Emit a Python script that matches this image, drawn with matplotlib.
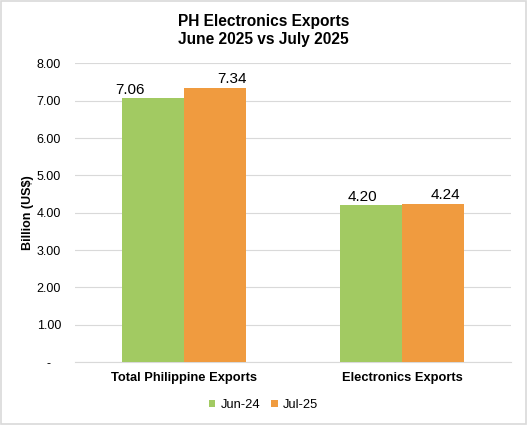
import matplotlib.pyplot as plt
import numpy as np
from matplotlib.patches import Rectangle

plt.rcParams['font.family'] = ['Liberation Sans', 'DejaVu Sans']

categories = ['Total Philippine Exports', 'Electronics Exports']
series_names = ['Jun-24', 'Jul-25']
jun24 = [7.06, 4.20]
jul25 = [7.34, 4.24]
colors = ['#A2CA62', '#F09B3F']
yticks = [0, 1, 2, 3, 4, 5, 6, 7, 8]
ytick_labels = ['-   ', '1.00', '2.00', '3.00', '4.00', '5.00', '6.00', '7.00', '8.00']

# data labels in the original are nudged sideways by hand
label_dx = [[-0.105, -0.041], [0.078, 0.055]]

fig = plt.figure(figsize=(5.27, 4.25), dpi=100)
ax = fig.add_axes([0.1423, 0.148, 0.828, 0.703])

x = np.arange(len(categories))
w = 0.284
for i, (vals, name) in enumerate(zip([jun24, jul25], series_names)):
    bars = ax.bar(x + (i - 0.5) * w, vals, w, color=colors[i], label=name, zorder=3)
    for j, (b, v) in enumerate(zip(bars, vals)):
        ax.text(b.get_x() + b.get_width() / 2 + label_dx[i][j], v + 0.12, '%.2f' % v,
                ha='center', va='baseline', fontsize=11, color='#000000')

ax.set_xlim(-0.5, 1.5)
ax.set_ylim(0, 8)
ax.set_yticks(yticks)
ax.set_yticklabels(ytick_labels, fontsize=9)
ax.set_xticks(x)
ax.set_xticklabels(categories, fontsize=9.3, fontweight='bold')
ax.tick_params(axis='both', length=0, pad=7)
ax.tick_params(axis='y', pad=10)
ax.yaxis.grid(True, color='#D9D9D9', lw=0.8, zorder=0)
for s in ['top', 'right', 'left']:
    ax.spines[s].set_visible(False)
ax.spines['bottom'].set_color('#D9D9D9')
ax.set_ylabel('Billion (US$)', fontsize=9, fontweight='bold', labelpad=2)

fig.text(0.5, 0.9395, 'PH Electronics Exports', ha='center', va='baseline',
         fontsize=11.2, fontweight='bold')
fig.text(0.5, 0.8965, 'June 2025 vs July 2025', ha='center', va='baseline',
         fontsize=11.2, fontweight='bold')

fig.legend(loc='center', bbox_to_anchor=(0.5, 0.047), ncol=2, frameon=False,
           fontsize=9.3, handlelength=0.5, handleheight=0.5, handletextpad=0.4,
           columnspacing=0.85)

fig.patches.append(Rectangle((0.002, 0.002), 0.996, 0.996, transform=fig.transFigure,
                             fill=False, edgecolor='#D9D9D9', lw=1.2))

fig.savefig('out.png', dpi=100)
